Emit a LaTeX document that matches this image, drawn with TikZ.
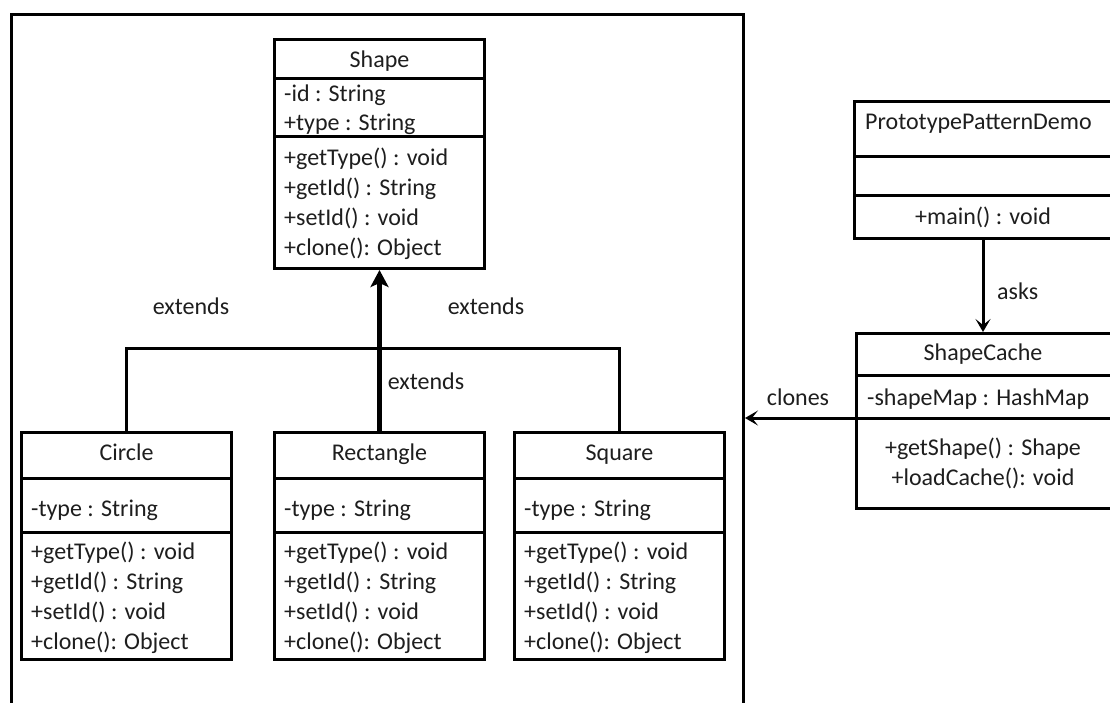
\documentclass[tikz,border=0pt]{standalone}
\usepackage{fontspec}
\setmainfont{Carlito}
\usetikzlibrary{arrows.meta}
\definecolor{ink}{RGB}{30,30,30}
\newcommand\subcls[3]{% name, left x, title
  \node[box, minimum width=210pt, minimum height=227pt] (#1) at (#2,431) {};
  \draw[sep] (#1.west |- 0,478) -- (#1.east |- 0,478);
  \draw[sep] (#1.west |- 0,532) -- (#1.east |- 0,532);
  \node[ct] (#1-t) at (#1.north |- 0,460) {#3};
  \node[lt] (#1-a) at (#2+11,516) {-type : String};
  \node[lt] (#1-m1) at (#2+11,559) {+getType() : void};
  \node[lt] (#1-m2) at (#2+11,589) {+getId() : String};
  \node[lt] (#1-m3) at (#2+11,619) {+setId() : void};
  \node[lt] (#1-m4) at (#2+11,649) {+clone(): Object};
}
\begin{document}
\begin{tikzpicture}[x=1pt,y=-1pt,
  box/.style={draw, line width=3pt, inner sep=0pt, anchor=north west},
  txt/.style={inner sep=0pt, font=\fontsize{24}{30}\selectfont, text=ink},
  lt/.style={txt, anchor=base west},
  ct/.style={txt, anchor=base},
  sep/.style={line width=3pt},
  conn/.style={line width=3pt},
  bigarrow/.style={line width=4.6pt, -{Stealth[length=17pt, width=18pt, inset=4pt]}},
  smallarrow/.style={conn, -{Stealth[length=13pt, width=15pt, inset=6pt]}},
]
\useasboundingbox (0,0) rectangle (1110,702);
\fill[white] (0,0) rectangle (1110,702);

% outer frame (open at the bottom of the picture)
\node[box, minimum width=732pt, minimum height=760pt] (frame) at (10,13) {};

% Shape
\node[box, minimum width=210pt, minimum height=229pt] (shape) at (273,38) {};
\draw[sep] (shape.west |- 0,78) -- (shape.east |- 0,78);
\draw[sep] (shape.west |- 0,136) -- (shape.east |- 0,136);
\node[ct] (shape-t) at (shape.north |- 0,67) {Shape};
\node[lt] (shape-a1) at (284,101) {-id : String};
\node[lt] (shape-a2) at (284,130) {+type : String};
\node[lt] (shape-m1) at (284,165) {+getType() : void};
\node[lt] (shape-m2) at (284,195) {+getId() : String};
\node[lt] (shape-m3) at (284,225) {+setId() : void};
\node[lt] (shape-m4) at (284,255) {+clone(): Object};

% subclasses
\subcls{circle}{20}{Circle}
\subcls{rect}{273}{Rectangle}
\subcls{square}{513}{Square}

% inheritance connectors
\draw[conn] (circle.north) -- (circle.north |- 0,348) -| (square.north);
\draw[bigarrow] (rect.north) -- (shape.south);
\node[ct] (ext1) at (191,314) {extends};
\node[ct] (ext2) at (486,314) {extends};
\node[ct] (ext3) at (426,389) {extends};

% PrototypePatternDemo
\node[box, minimum width=280pt, minimum height=137pt] (ppd) at (853,100) {};
\draw[sep] (ppd.west |- 0,156) -- (ppd.east |- 0,156);
\draw[sep] (ppd.west |- 0,195) -- (ppd.east |- 0,195);
\node[lt] (ppd-t) at (865,129) {PrototypePatternDemo};
\node[ct] (ppd-m) at (983,224) {+main() : void};

% ShapeCache
\node[box, minimum width=280pt, minimum height=175pt] (sc) at (855,332) {};
\draw[sep] (sc.west |- 0,375) -- (sc.east |- 0,375);
\draw[sep] (sc.west |- 0,418) -- (sc.east |- 0,418);
\node[ct] (sc-t) at (983,360) {ShapeCache};
\node[lt] (sc-a) at (867,405) {-shapeMap : HashMap};
\node[ct] (sc-m1) at (983,455) {+getShape() : Shape};
\node[ct] (sc-m2) at (983,485) {+loadCache(): void};

% asks / clones
\draw[smallarrow] (ppd.south -| ppd-m) -- (sc.north -| ppd-m);
\node[lt] (asks) at (997,299) {asks};
\draw[smallarrow] (sc.west |- 0,418) -- (frame.east |- 0,418);
\node[ct] (clones) at (798,405) {clones};
\end{tikzpicture}
\end{document}
